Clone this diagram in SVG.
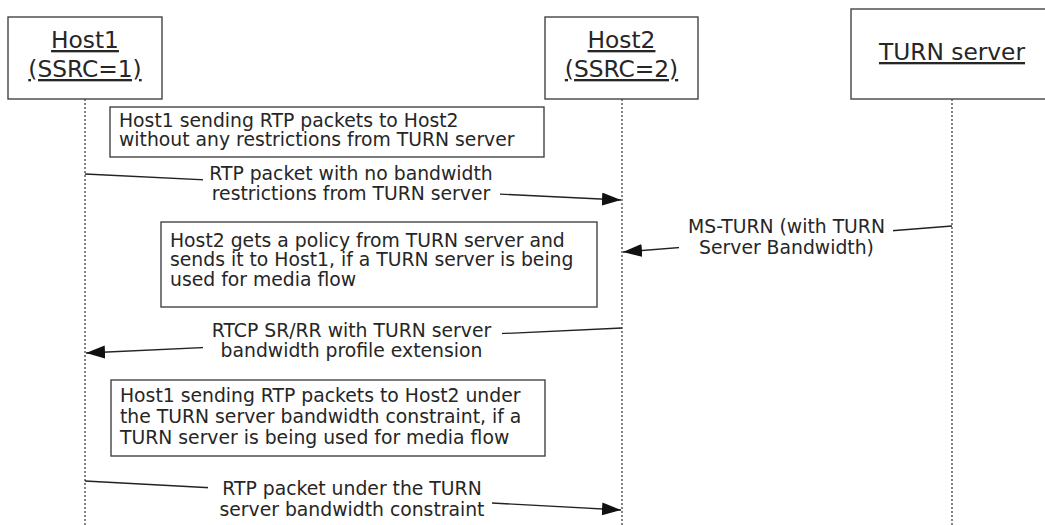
<svg xmlns="http://www.w3.org/2000/svg" width="1045" height="525" viewBox="0 0 1045 525">
  <style>
    .box { fill: #fff; stroke: #444; stroke-width: 1.4; }
    .life { stroke: #333; stroke-width: 1.2; stroke-dasharray: 2 2; fill: none; }
    .msg { stroke: #222; stroke-width: 1.3; fill: none; marker-end: url(#arrow); }
    .hdr { font-family: "DejaVu Sans", Verdana, sans-serif; font-size: 23.3px; fill: #262626; text-anchor: middle; text-decoration: underline; }
    .txt { font-family: "DejaVu Sans", Verdana, sans-serif; font-size: 18.8px; fill: #262626; }
    .lbl { font-family: "DejaVu Sans", Verdana, sans-serif; font-size: 18.8px; fill: #262626; text-anchor: middle; }
    .mask { fill: #fff; stroke: none; }
  </style>
  <defs>
    <marker id="arrow" markerUnits="userSpaceOnUse" markerWidth="20" markerHeight="14" refX="19" refY="6.5" orient="auto">
      <path d="M0,0 L19,6.5 L0,13 z" fill="#111"/>
    </marker>
  </defs>
  <rect width="1045" height="525" fill="#fff"/>

  <!-- Lifelines -->
  <g id="lifelines">
    <line class="life" x1="85" y1="99" x2="85" y2="525"/>
    <line class="life" x1="622" y1="99" x2="622" y2="525"/>
    <line class="life" x1="952" y1="99" x2="952" y2="525"/>
  </g>

  <!-- Participants -->
  <g id="host1">
    <rect class="box" x="8" y="17" width="154" height="82"/>
    <text class="hdr" x="85" y="48">Host1</text>
    <text class="hdr" x="85" y="77">(SSRC=1)</text>
  </g>
  <g id="host2">
    <rect class="box" x="545" y="17" width="153" height="82"/>
    <text class="hdr" x="621.5" y="48">Host2</text>
    <text class="hdr" x="621.5" y="77">(SSRC=2)</text>
  </g>
  <g id="turn">
    <rect class="box" x="851" y="9" width="210" height="90"/>
    <text class="hdr" x="952" y="60">TURN server</text>
  </g>

  <!-- Notes -->
  <g id="note1">
    <rect class="box" x="110" y="107" width="434" height="50"/>
    <text class="txt" x="119" y="127">Host1 sending RTP packets to Host2</text>
    <text class="txt" x="119" y="146">without any restrictions from TURN server</text>
  </g>
  <g id="note2">
    <rect class="box" x="161" y="222" width="436" height="85"/>
    <text class="txt" x="170" y="247">Host2 gets a policy from TURN server and</text>
    <text class="txt" x="170" y="266">sends it to Host1, if a TURN server is being</text>
    <text class="txt" x="170" y="286">used for media flow</text>
  </g>
  <g id="note3">
    <rect class="box" x="111" y="380" width="434" height="76"/>
    <text class="txt" x="120" y="402">Host1 sending RTP packets to Host2 under</text>
    <text class="txt" x="120" y="423">the TURN server bandwidth constraint, if a</text>
    <text class="txt" x="120" y="444">TURN server is being used for media flow</text>
  </g>

  <!-- Connectors -->
  <g id="connectors">
    <g id="msg1">
      <line class="msg" x1="85" y1="174" x2="621" y2="200"/>
      <rect class="mask" x="203" y="165" width="297" height="41"/>
      <text class="lbl" x="351" y="180">RTP packet with no bandwidth</text>
      <text class="lbl" x="351" y="200">restrictions from TURN server</text>
    </g>
    <g id="msg2">
      <line class="msg" x1="952" y1="226" x2="623" y2="252"/>
      <rect class="mask" x="679" y="218" width="214" height="41"/>
      <text class="lbl" x="786.5" y="233">MS-TURN (with TURN</text>
      <text class="lbl" x="786.5" y="254">Server Bandwidth)</text>
    </g>
    <g id="msg3">
      <line class="msg" x1="622" y1="328" x2="86" y2="353"/>
      <rect class="mask" x="203" y="322" width="299" height="41"/>
      <text class="lbl" x="351.5" y="337">RTCP SR/RR with TURN server</text>
      <text class="lbl" x="351.5" y="357">bandwidth profile extension</text>
    </g>
    <g id="msg4">
      <line class="msg" x1="85" y1="481" x2="621" y2="510"/>
      <rect class="mask" x="208" y="480" width="284" height="41"/>
      <text class="lbl" x="352" y="495">RTP packet under the TURN</text>
      <text class="lbl" x="352" y="516">server bandwidth constraint</text>
    </g>
  </g>
</svg>
